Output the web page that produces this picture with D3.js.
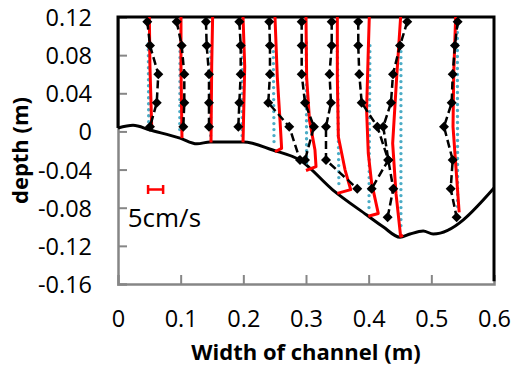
<!DOCTYPE html>
<html>
<head>
<meta charset="utf-8">
<script src="https://cdn.jsdelivr.net/npm/d3@7"></script>
<style>
  body { margin: 0; background: #fff; }
  text { font-family: "Open Sans", Lato, sans-serif; }
</style>
</head>
<body>
<div id="chart"></div>
<script>
// measurement depths (m) for the diamond markers
var depths = [0.115, 0.09, 0.06, 0.03, 0.005, -0.03, -0.06, -0.09];

// measured profiles (black dashed + diamonds), x position per depth
var measuredX = [
  [0.0468, 0.0511, 0.0643, 0.0618, 0.0511],
  [0.0937, 0.1016, 0.1058, 0.1058, 0.1042],
  [0.1404, 0.1415, 0.1452, 0.1452, 0.1452],
  [0.1936, 0.1958, 0.1958, 0.1936, 0.1920],
  [0.2414, 0.2425, 0.2425, 0.2398, 0.2733, 0.2904],
  [0.2931, 0.2931, 0.2931, 0.2984, 0.3127, 0.2984],
  [0.3410, 0.3410, 0.3375, 0.3399, 0.3319, 0.3319, 0.3818],
  [0.3834, 0.3834, 0.3850, 0.3889, 0.4138, 0.4313, 0.4048],
  [0.4616, 0.4500, 0.4388, 0.4356, 0.4233, 0.4313, 0.4393, 0.4303],
  [0.5420, 0.5377, 0.5341, 0.5325, 0.5202, 0.5341, 0.5309, 0.5404]
];

// model profiles (red solid)
var modelX = [
  [0.0500, 0.0510, 0.0538],
  [0.1005, 0.1005, 0.1021],
  [0.1510, 0.1495, 0.1484],
  [0.1995, 0.2022, 0.1995],
  [0.2505, 0.2542, 0.2585, 0.2611, 0.2505],
  [0.3000, 0.3010, 0.3056, 0.3143, 0.3160, 0.3000],
  [0.3500, 0.3500, 0.3516, 0.3622, 0.3713, 0.3500],
  [0.4010, 0.3994, 0.3967, 0.3994, 0.4047, 0.4153, 0.3994],
  [0.4510, 0.4447, 0.4383, 0.4436, 0.4510, 0.4550],
  [0.5388, 0.5357, 0.5346, 0.5444]
];
var modelY = [
  [0.12, 0.068, 0.004],
  [0.12, 0.068, -0.007],
  [0.12, 0.068, -0.0115],
  [0.12, 0.068, -0.0115],
  [0.12, 0.057, 0.012, -0.0177, -0.0213],
  [0.12, 0.057, 0.0117, -0.0195, -0.037, -0.041],
  [0.12, 0.057, -0.0056, -0.040, -0.061, -0.065],
  [0.12, 0.085, 0.0225, -0.023, -0.054, -0.086, -0.089],
  [0.12, 0.057, -0.0125, -0.065, -0.110, -0.109],
  [0.12, 0.06, 0.005, -0.085]
];

// second profile (teal dotted)
var dottedX = [
  [0.0484, 0.0490], [0.0990, 0.0985], [0.1480, 0.1478], [0.1985, 0.1980],
  [0.2478, 0.2490], [0.3005, 0.3010], [0.3500, 0.3525], [0.4020, 0.4005],
  [0.4515, 0.4515], [0.5415, 0.5420]
];
var dottedY = [
  [0.092, 0.008], [0.09, -0.004], [0.09, -0.008], [0.09, -0.008],
  [0.09, -0.013], [0.093, -0.035], [0.09, -0.056], [0.09, -0.082],
  [0.09, -0.104], [0.11, -0.082]
];

// channel bed
var bedX = [0, 0.024, 0.051, 0.099, 0.126, 0.147, 0.2, 0.247, 0.29, 0.343, 0.397, 0.423, 0.45, 0.466, 0.487, 0.503, 0.6];
var bedY = [0.0036, 0.0064, 0.0015, -0.007, -0.013, -0.011, -0.011, -0.0195, -0.030, -0.0615, -0.0877, -0.100, -0.111, -0.1076, -0.1044, -0.1076, -0.0594];

var xTicks = [0, 0.1, 0.2, 0.3, 0.4, 0.5, 0.6];
var yTicks = [0.12, 0.08, 0.04, 0, -0.04, -0.08, -0.12, -0.16];

var width = 511, height = 365;
var margin = {left: 118, top: 17, right: 17, bottom: 81};

var svg = d3.select("#chart").append("svg")
  .attr("width", width)
  .attr("height", height);

var x = d3.scaleLinear().domain([0, 0.6]).range([margin.left, width - margin.right]);
var y = d3.scaleLinear().domain([-0.16, 0.12]).range([height - margin.bottom, margin.top]);

// plain hyphen minus like the original
var fmt = function(d){ return String(+d.toFixed(2)); };

// axes (gray, ticks inside)
var xAxis = svg.append("g")
  .attr("transform", "translate(0," + y(-0.16) + ")")
  .call(d3.axisBottom(x).tickValues(xTicks).tickSize(-9).tickFormat(fmt));
var yAxis = svg.append("g")
  .attr("transform", "translate(" + x(0) + ",0)")
  .call(d3.axisLeft(y).tickValues(yTicks).tickSize(-9).tickFormat(fmt));

[xAxis, yAxis].forEach(function(g){
  g.select(".domain").attr("stroke", "#868686").attr("stroke-width", 2.5);
  g.selectAll(".tick line").attr("stroke", "#868686").attr("stroke-width", 2);
  g.selectAll(".tick text").attr("fill", "#000").attr("font-size", 23.5)
    .style("font-family", "'Open Sans', Lato, sans-serif");
});
xAxis.selectAll(".tick text").attr("dy", 0).attr("y", 43);
yAxis.selectAll(".tick text").attr("x", -26).attr("dy", "0.36em");
xAxis.selectAll(".tick").filter(function(d){ return d === 0 || d === 0.6; }).select("line").remove();
yAxis.selectAll(".tick").filter(function(d){ return d === 0.12 || d === -0.16; }).select("line").remove();

// channel frame: left wall, top, right side
var line = d3.line().x(function(d){ return x(d[0]); }).y(function(d){ return y(d[1]); });
svg.append("path")
  .attr("d", line([[0, bedY[0]], [0, 0.12], [0.6, 0.12], [0.6, -0.157]]))
  .attr("fill", "none").attr("stroke", "#000").attr("stroke-width", 3);

// bed
svg.append("path")
  .attr("d", d3.line().x(function(d){ return x(d[0]); }).y(function(d){ return y(d[1]); })
    .curve(d3.curveMonotoneX)(d3.zip(bedX, bedY)))
  .attr("fill", "none").attr("stroke", "#000").attr("stroke-width", 3);

// teal dotted
dottedX.forEach(function(xs, i){
  svg.append("path")
    .attr("d", line(d3.zip(xs, dottedY[i])))
    .attr("fill", "none").attr("stroke", "#4BACC6").attr("stroke-width", 3.4)
    .attr("stroke-linecap", "round").attr("stroke-dasharray", "0 6");
});

// red model
modelX.forEach(function(xs, i){
  svg.append("path")
    .attr("d", line(d3.zip(xs, modelY[i])))
    .attr("fill", "none").attr("stroke", "#FF0000").attr("stroke-width", 3)
    .attr("stroke-linejoin", "round");
});

// measured dashed + diamonds
var diamond = "M0,-5L5,0L0,5L-5,0Z";
measuredX.forEach(function(xs){
  var pts = xs.map(function(v, j){ return [v, depths[j]]; });
  svg.append("path")
    .attr("d", line(pts))
    .attr("fill", "none").attr("stroke", "#000").attr("stroke-width", 2.5)
    .attr("stroke-dasharray", "8 4");
  svg.selectAll(null).data(pts).enter().append("path")
    .attr("d", diamond)
    .attr("transform", function(d){ return "translate(" + x(d[0]) + "," + y(d[1]) + ")"; })
    .attr("fill", "#000");
});

// velocity scale bar
var scaleBar = {x0: 0.048, x1: 0.072, y: -0.061};
var capH = 4.5;
svg.append("path")
  .attr("d", "M" + x(scaleBar.x0) + "," + (y(scaleBar.y) - capH) + "V" + (y(scaleBar.y) + capH) +
    "M" + x(scaleBar.x0) + "," + y(scaleBar.y) + "H" + x(scaleBar.x1) +
    "M" + x(scaleBar.x1) + "," + (y(scaleBar.y) - capH) + "V" + (y(scaleBar.y) + capH))
  .attr("fill", "none").attr("stroke", "#FF0000").attr("stroke-width", 2.5);
svg.append("text")
  .attr("x", x(0.0155)).attr("y", y(-0.1006))
  .attr("font-size", 26).attr("fill", "#000")
  .text("5cm/s");

// axis titles
svg.append("text")
  .attr("x", (x(0) + x(0.6)) / 2).attr("y", 360)
  .attr("text-anchor", "middle").attr("font-size", 22).attr("font-weight", "bold")
  .text("Width of channel (m)");
svg.append("text")
  .attr("transform", "translate(28," + ((y(0.12) + y(-0.16)) / 2) + ") rotate(-90)")
  .attr("text-anchor", "middle").attr("font-size", 22).attr("font-weight", "bold")
  .text("depth (m)");
</script>
</body>
</html>
